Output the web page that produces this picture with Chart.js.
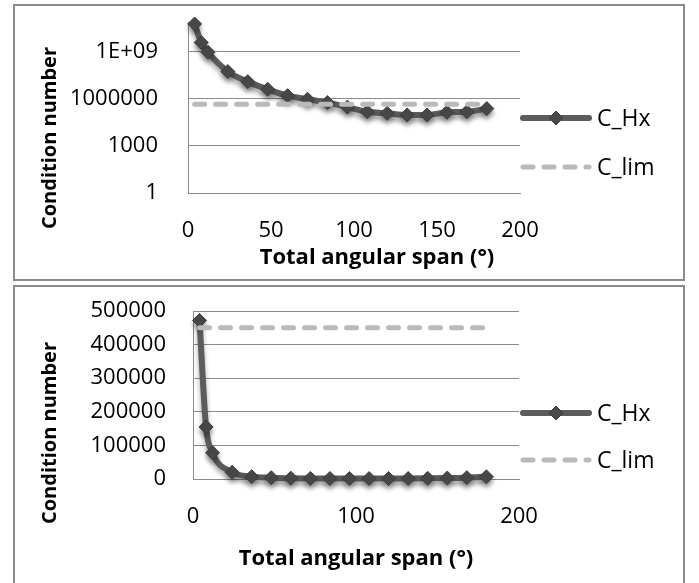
<!DOCTYPE html>
<html>
<head>
<meta charset="utf-8">
<script src="https://cdn.jsdelivr.net/npm/chart.js@4/dist/chart.umd.min.js"></script>
<style>
  html, body { margin: 0; padding: 0; background: #fff; overflow: hidden; }
  body { width: 699px; height: 583px; position: relative; }
  .box { position: absolute; left: 13px; width: 672px; border: 2px solid #8c8c8c; box-sizing: border-box; background: #fff; }
  canvas { position: absolute; left: 0; }
</style>
</head>
<body>
<div class="box" style="top:4px;height:277px;"></div>
<div class="box" style="top:285px;height:320px;"></div>
<canvas id="topChart" width="699" height="283" style="top:0;"></canvas>
<canvas id="bottomChart" width="699" height="300" style="top:283px;"></canvas>
<script>
/* ── data ── */
var SPAN = [4, 8, 12, 24, 36, 48, 60, 72, 84, 96, 108, 120, 132, 144, 156, 168, 180];

/* top panel (log axis) */
var TOP_HX  = [6e10, 3.9e9, 9.5e8, 5.5e7, 1.26e7, 4.1e6, 1.6e6, 9.5e5, 5.8e5, 3.0e5, 1.5e5, 1.2e5, 9.5e4, 9.5e4, 1.4e5, 1.5e5, 2.4e5];
var TOP_LIM = [450000, 450000, 450000, 450000, 450000, 450000, 450000, 450000, 450000, 450000, 450000, 450000, 450000, 450000, 450000, 450000, 450000];

/* bottom panel (linear axis) */
var BOT_HX  = [472000, 155000, 78000, 20000, 7000, 4000, 2500, 1800, 1500, 1300, 1300, 1400, 1600, 2000, 2800, 4000, 6500];
var BOT_LIM = [450000, 450000, 450000, 450000, 450000, 450000, 450000, 450000, 450000, 450000, 450000, 450000, 450000, 450000, 450000, 450000, 450000];

var TOP_Y_TICKS  = [1, 1000, 1000000, 1000000000];
var TOP_Y_LABELS = ["1", "1000", "1000000", "1E+09"];
var SERIES = ["C_Hx", "C_lim"];

/* ── look ── */
var C = {
  hx: "#5c5c5c", marker: "#4a4a4a", lim: "#bababa",
  grid: "#8c8c8c", text: "#000"
};
var TICK_FONT    = { family: "Open Sans", size: 22 };
var XTITLE_FONT  = "bold 22px 'Open Sans'";
var YTITLE_FONT  = "bold 20px 'Open Sans'";
var LEG_FONT     = "23px 'Open Sans'";

function pts(xs, ys) {
  return xs.map(function (x, i) { return { x: x, y: ys[i] }; });
}

function datasets(hx, lim) {
  return [
    {
      label: SERIES[0], data: pts(SPAN, hx),
      borderColor: C.hx, borderWidth: 6, borderCapStyle: "round", borderJoinStyle: "round",
      cubicInterpolationMode: "monotone",
      pointStyle: "rectRot", pointRadius: 7, pointBackgroundColor: C.marker,
      pointBorderColor: "#3c3c3c", pointBorderWidth: 1,
      order: 2, clip: false
    },
    {
      label: SERIES[1], data: pts(SPAN, lim),
      borderColor: C.lim, borderWidth: 5, borderDash: [10, 11], borderCapStyle: "round",
      pointRadius: 0, order: 1, clip: false
    }
  ];
}

/* soft drop shadow under the C_Hx series, like the spreadsheet */
var shadowPlugin = {
  id: "shadow",
  beforeDatasetDraw: function (chart, args) {
    if (args.index !== 0) return;
    var ctx = chart.ctx;
    ctx.save();
    ctx.shadowColor = "rgba(0,0,0,0.35)";
    ctx.shadowBlur = 5;
    ctx.shadowOffsetY = 4;
  },
  afterDatasetDraw: function (chart, args) {
    if (args.index !== 0) return;
    chart.ctx.restore();
  }
};

/* axis titles + legend drawn where the original puts them */
var decorPlugin = {
  id: "decor",
  afterDraw: function (chart, args, o) {
    var ctx = chart.ctx;
    ctx.save();
    ctx.fillStyle = C.text;
    ctx.textAlign = "center";
    ctx.textBaseline = "middle";
    ctx.font = XTITLE_FONT;
    ctx.fillText(o.xTitle, o.xTitlePos[0], o.xTitlePos[1]);
    ctx.save();
    ctx.font = YTITLE_FONT;
    ctx.translate(o.yTitlePos[0], o.yTitlePos[1]);
    ctx.rotate(-Math.PI / 2);
    ctx.fillText(o.yTitle, 0, 0);
    ctx.restore();

    /* legend */
    ctx.font = LEG_FONT;
    ctx.textAlign = "left";
    chart.data.datasets.forEach(function (ds, i) {
      var y = o.legendY[i], x0 = o.legendX[0], x1 = o.legendX[1];
      ctx.save();
      ctx.strokeStyle = ds.borderColor;
      ctx.lineWidth = ds.borderWidth;
      ctx.lineCap = "round";
      ctx.setLineDash(ds.borderDash || []);
      ctx.beginPath();
      ctx.moveTo(x0 + 3, y);
      ctx.lineTo(x1 - 3, y);
      ctx.stroke();
      ctx.restore();
      if (ds.pointRadius > 0) {
        ctx.fillStyle = ds.pointBackgroundColor;
        ctx.strokeStyle = ds.pointBorderColor;
        ctx.lineWidth = 1;
        Chart.helpers.drawPoint(ctx, { pointStyle: "rectRot", radius: ds.pointRadius, borderWidth: 1 }, (x0 + x1) / 2, y);
      }
      ctx.fillStyle = C.text;
      ctx.fillText(ds.label, x1 + 5, y + 1);
    });
    ctx.restore();
  }
};

/* tick marks are invisible; their length just pushes the labels away from the axis */
function baseOptions(pad, yWidth, xHeight, yGap) {
  return {
    responsive: false,
    animation: false,
    layout: { padding: pad },
    plugins: { legend: { display: false }, tooltip: { enabled: false } },
    scales: {
      x: {
        type: "linear", min: 0, max: 200,
        grid: { display: false, drawTicks: false },
        border: { display: true, color: C.grid, width: 1 },
        ticks: { color: C.text, font: TICK_FONT, padding: 25, maxRotation: 0 },
        afterFit: function (s) { s.height = xHeight; }
      },
      y: {
        grid: { color: C.grid, lineWidth: 1, drawTicks: true, tickLength: yGap, tickColor: "rgba(0,0,0,0)" },
        border: { display: true, color: C.grid, width: 1 },
        ticks: { color: C.text, font: TICK_FONT, padding: 2 },
        afterFit: function (s) { s.width = yWidth; }
      }
    }
  };
}

/* ── top panel: log scale ── */
var optTop = baseOptions({ left: 0, top: 22, right: 179, bottom: 0 }, 188, 90, 28);
optTop.scales.x.ticks.stepSize = 50;
optTop.scales.y.type = "logarithmic";
optTop.scales.y.min = 1;
optTop.scales.y.max = 8e10;
optTop.scales.y.afterBuildTicks = function (s) {
  s.ticks = TOP_Y_TICKS.map(function (v) { return { value: v }; });
};
optTop.scales.y.ticks.callback = function (v) {
  var i = TOP_Y_TICKS.indexOf(v);
  return i >= 0 ? TOP_Y_LABELS[i] : "";
};
optTop.plugins.decor = {
  xTitle: "Total angular span (°)", xTitlePos: [377, 258],
  yTitle: "Condition number", yTitlePos: [50, 138],
  legendX: [520, 592], legendY: [118, 167]
};

new Chart(document.getElementById("topChart"), {
  type: "line",
  data: { datasets: datasets(TOP_HX, TOP_LIM) },
  options: optTop,
  plugins: [shadowPlugin, decorPlugin]
});

/* ── bottom panel: linear scale ── */
var optBot = baseOptions({ left: 0, top: 28, right: 180, bottom: 0 }, 193, 104, 25);
optBot.scales.x.ticks.stepSize = 100;
optBot.scales.y.type = "linear";
optBot.scales.y.min = 0;
optBot.scales.y.max = 500000;
optBot.scales.y.ticks.stepSize = 100000;
optBot.scales.y.ticks.callback = function (v) { return String(v); };
optBot.plugins.decor = {
  xTitle: "Total angular span (°)", xTitlePos: [356, 276],
  yTitle: "Condition number", yTitlePos: [50, 150],
  legendX: [520, 592], legendY: [130, 177]
};

new Chart(document.getElementById("bottomChart"), {
  type: "line",
  data: { datasets: datasets(BOT_HX, BOT_LIM) },
  options: optBot,
  plugins: [shadowPlugin, decorPlugin]
});
</script>
</body>
</html>
